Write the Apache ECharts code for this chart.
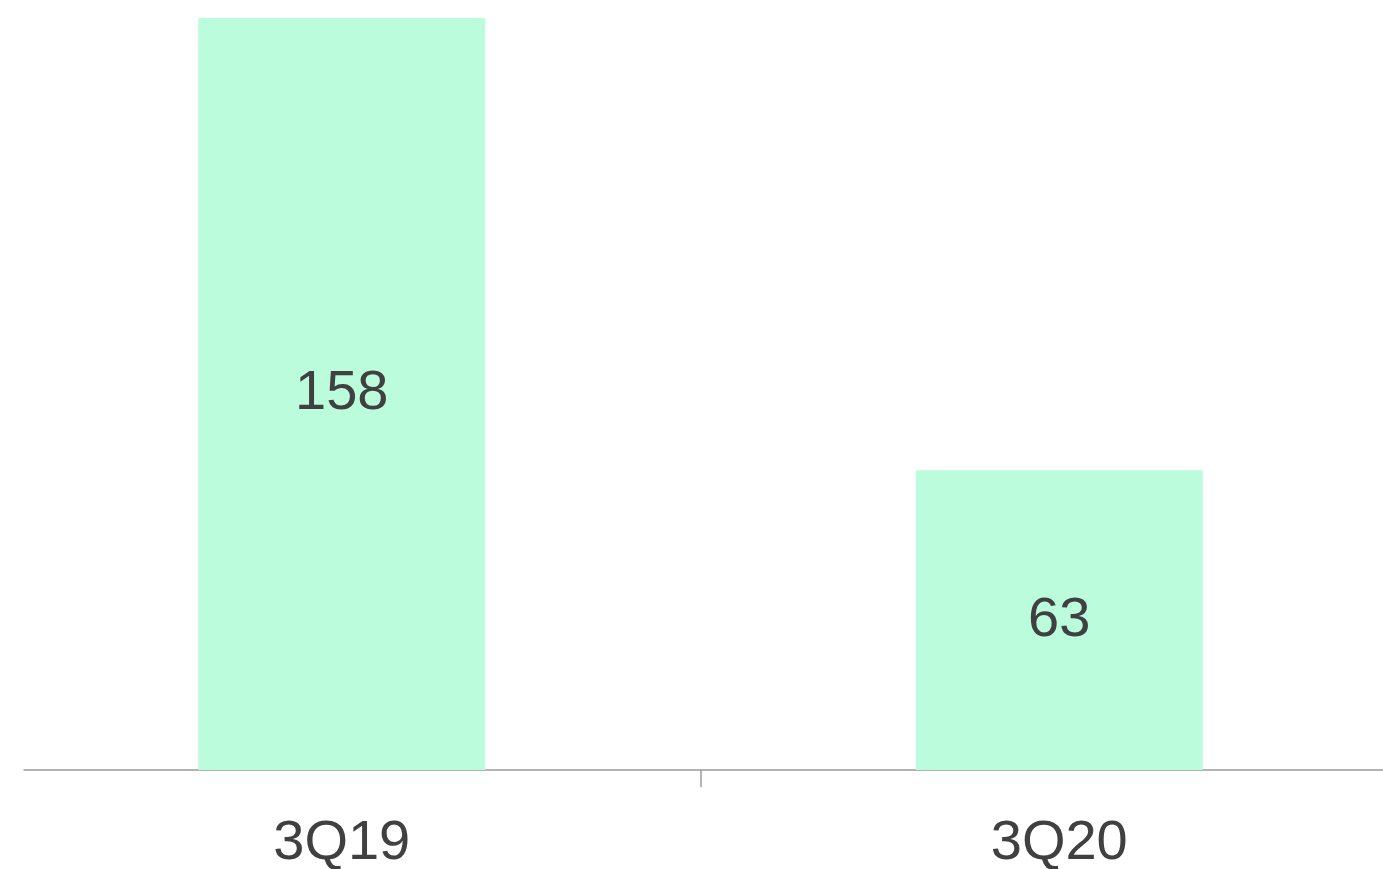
<!DOCTYPE html>
<html>
<head>
<meta charset="utf-8">
<script src="https://cdn.jsdelivr.net/npm/echarts@6/dist/echarts.min.js"></script>
<style>html,body{margin:0;padding:0;background:#fff;}#c{width:1383px;height:869px;}</style>
</head>
<body>
<div id="c"></div>
<script>
const categories = ['3Q19', '3Q20'];
const values = [158, 63];

const chart = echarts.init(document.getElementById('c'));
chart.setOption({
  animation: false,
  backgroundColor: '#ffffff',
  grid: [
    { left: -17, width: 1435, top: 18, bottom: 99, containLabel: false, outerBoundsMode: 'none' },
    { left: 24, right: 0, top: 18, bottom: 99, containLabel: false, outerBoundsMode: 'none' }
  ],
  xAxis: [
    {
      type: 'category', gridIndex: 0, data: categories,
      axisLine: { show: false },
      axisTick: { show: true, length: 17, lineStyle: { color: '#9a9a9a', width: 1.5 } },
      axisLabel: { color: '#404040', fontSize: 56, fontFamily: 'Liberation Sans, Arial, sans-serif', margin: 46 }
    },
    {
      type: 'value', gridIndex: 1, min: 0, max: 1,
      axisLine: { show: true, lineStyle: { color: '#9a9a9a', width: 1.5 } },
      axisTick: { show: false }, axisLabel: { show: false }, splitLine: { show: false }
    }
  ],
  yAxis: [
    { type: 'value', gridIndex: 0, min: 0, max: 158, show: false, splitLine: { show: false } },
    { type: 'value', gridIndex: 1, min: 0, max: 1, show: false, splitLine: { show: false } }
  ],
  series: [{
    type: 'bar', xAxisIndex: 0, yAxisIndex: 0,
    data: values, barWidth: 287,
    itemStyle: { color: '#bafcdc' },
    label: { show: true, position: 'inside', color: '#404040', fontSize: 56, fontFamily: 'Liberation Sans, Arial, sans-serif' }
  }]
});
</script>
</body>
</html>
